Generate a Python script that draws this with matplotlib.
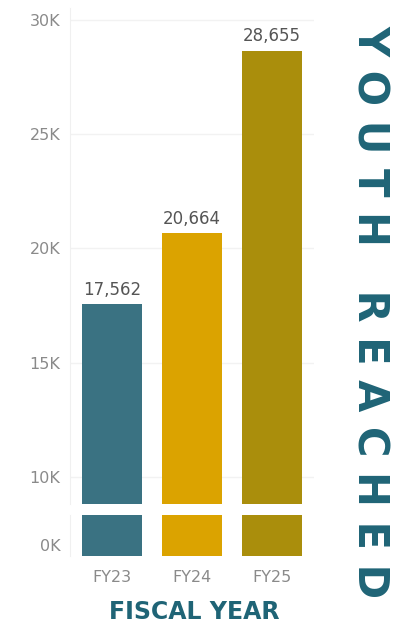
import matplotlib.pyplot as plt
from matplotlib.transforms import ScaledTranslation

# data
years = ['FY23', 'FY24', 'FY25']
youth = [17562, 20664, 28655]
colors = ['#3a7282', '#dba300', '#aa8e0c']
top_ticks = [10000, 15000, 20000, 25000, 30000]
top_labels = ['10K', '15K', '20K', '25K', '30K']

teal = '#1f6476'
grey = '#8a8a8a'

fig = plt.figure(figsize=(4.01, 6.25), dpi=100)
ax_top = fig.add_axes([0.1746, 0.1936, 0.6085, 0.7936])
ax_bot = fig.add_axes([0.1746, 0.1104, 0.6085, 0.0656])

x = range(len(years))
for ax in (ax_top, ax_bot):
    ax.bar(x, youth, width=0.75, color=colors, zorder=2)
    ax.set_xlim(-0.525, 2.525)
    for s in ['top', 'right', 'bottom']:
        ax.spines[s].set_visible(False)
    ax.spines['left'].set_color('#f0f0f0')
    ax.tick_params(length=0, colors=grey, labelsize=11.5, pad=7)
    ax.grid(axis='y', color='#f2f2f2', linewidth=1, zorder=0)

# upper part of the broken axis
ax_top.set_ylim(8815, 30526)
ax_top.set_yticks(top_ticks)
ax_top.set_yticklabels(top_labels)
ax_top.set_xticks([])
ax_top.bar_label(ax_top.containers[0], labels=[f'{v:,}' for v in youth],
                 padding=4, color='#555555', fontsize=12)

# lower stub with 0K
ax_bot.set_ylim(0, 1800)
ax_bot.set_yticks([0])
ax_bot.set_yticklabels(['0K'])
ax_bot.grid(False)
for lab in ax_bot.get_yticklabels():
    lab.set_transform(lab.get_transform() + ScaledTranslation(0, 8 / 72, fig.dpi_scale_trans))
ax_bot.set_xticks(list(x))
ax_bot.set_xticklabels(years)
ax_bot.tick_params(axis='x', pad=10)

fig.text(0.923, 0.501, 'Y O U T H   R E A C H E D', rotation=-90, ha='center', va='center',
         color=teal, fontsize=30, fontweight='bold')
fig.text(0.484, 0.021, 'FISCAL YEAR', ha='center', va='center',
         color=teal, fontsize=17, fontweight='bold')

fig.savefig('out.png', dpi=100)
